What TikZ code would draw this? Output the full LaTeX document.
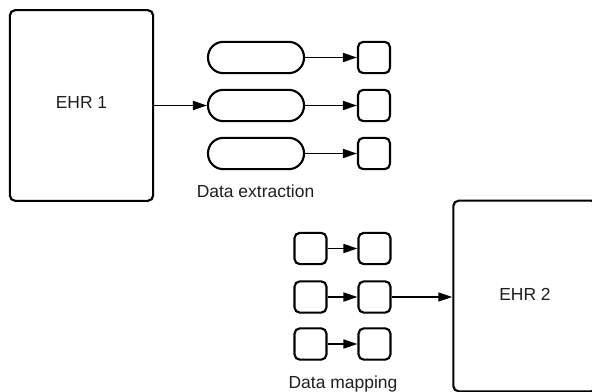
\documentclass[tikz,border=0pt]{standalone}
\usepackage{fontspec}
\setmainfont{Liberation Sans}
\usetikzlibrary{arrows.meta}
\begin{document}
\begin{tikzpicture}[x=0.75pt,y=-0.75pt,
  box/.style={draw=black,line width=1.6pt,rounded corners=4pt,fill=white,inner sep=0pt},
  ehr/.style={box,minimum width=107.5pt,minimum height=143pt},
  pill/.style={box,rounded corners=11.5pt,minimum width=72pt,minimum height=23.5pt},
  sq/.style={box,minimum width=24pt,minimum height=23.5pt},
  link/.style={line width=1.1pt,-{Triangle[length=10.5pt,width=6.8pt]}},
  lbl/.style={font=\fontsize{13.1pt}{15pt}\selectfont,text=black!88,anchor=base,inner sep=0pt}]
\clip (0,0) rectangle (592,392);
\fill[white] (0,0) rectangle (592,392);

% source record and extraction stage
\node[ehr] (ehrA) at (81.5,105.5) {};
\node[lbl] (ehrAtxt) at (81.5,108.5) {EHR 1};
\foreach \i/\y in {1/57.5,2/105.5,3/153.5}{
  \node[pill] (ex\i) at (256,\y) {};
  \node[sq] (out\i) at (374,\y) {};
  \draw[link] (ex\i) -- (out\i);
}
\draw[link] (ehrA.east |- ex2) -- (ex2);
\node[lbl] (exlbl) at (255.5,197.5) {Data extraction};

% mapping stage and target record
\node[ehr] (ehrB) at (525,296) {};
\node[lbl] (ehrBtxt) at (525,300) {EHR 2};
\foreach \i/\y in {1/248.5,2/297,3/344}{
  \node[sq] (src\i) at (310.5,\y) {};
  \node[sq] (dst\i) at (374.5,\y) {};
  \draw[link] (src\i) -- (dst\i);
}
\draw[link] (dst2) -- (dst2 -| ehrB.west);
\node[lbl] (mplbl) at (343,388.5) {Data mapping};
\end{tikzpicture}
\end{document}
